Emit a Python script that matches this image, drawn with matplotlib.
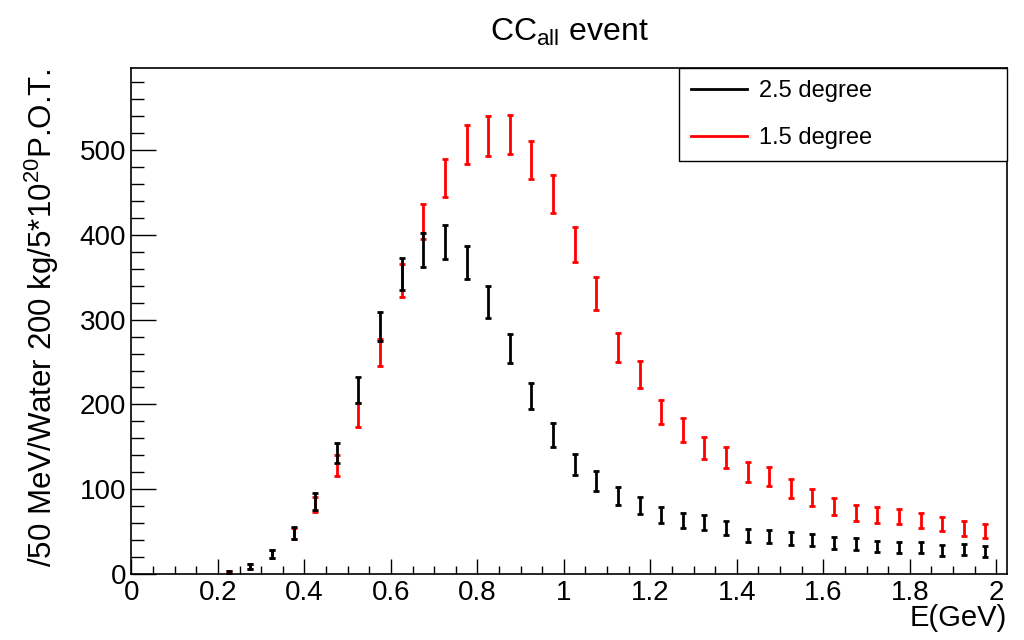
import numpy as np
import matplotlib.pyplot as plt
from matplotlib.lines import Line2D
from matplotlib.ticker import MultipleLocator, FormatStrFormatter

plt.rcParams['font.family'] = ['Liberation Sans', 'DejaVu Sans']
plt.rcParams['mathtext.fontset'] = 'custom'
plt.rcParams['mathtext.rm'] = 'Liberation Sans'
plt.rcParams['mathtext.it'] = 'Liberation Sans:italic'

# bin centres (GeV), 50 MeV bins
energy = [0.225, 0.275, 0.325, 0.375, 0.425, 0.475, 0.525, 0.575, 0.625,
          0.675, 0.725, 0.775, 0.825, 0.875, 0.925, 0.975, 1.025, 1.075,
          1.125, 1.175, 1.225, 1.275, 1.325, 1.375, 1.425, 1.475, 1.525,
          1.575, 1.625, 1.675, 1.725, 1.775, 1.825, 1.875, 1.925, 1.975]

# 2.5 degree off-axis
n_25 = [2, 9, 24, 49, 86, 143, 217, 292, 354,
        382, 391, 367, 321, 266, 210, 164, 129, 110,
        92, 81, 70, 63, 61, 54, 46, 44, 42,
        40, 37, 36, 33, 31, 32, 28, 29, 27]
err_25 = [1.5, 3, 5, 7, 10, 12, 15, 17, 19,
          20, 20, 19.6, 18.6, 17.3, 15.1, 13.7, 12.2, 11.4,
          10.4, 9.8, 9.4, 9.0, 8.4, 8.2, 7.5, 7.6, 7.5,
          7.1, 6.9, 6.9, 6.7, 6.5, 6.5, 6.1, 6.3, 6.3]

# 1.5 degree off-axis
n_15 = [2, 9, 24, 48, 82, 128, 188, 261, 346,
        415, 467, 506, 516, 518, 488, 448, 389, 331,
        267, 235, 191, 170, 149, 138, 121, 115, 101,
        90, 80, 72, 70, 68, 63, 59, 54, 51]
err_15 = [1.5, 3, 5, 7, 9, 12, 14, 16, 19,
          20.6, 22.2, 23.1, 23.5, 23.3, 22.7, 22.2, 20.6, 19.2,
          17.3, 16.1, 14.3, 13.9, 13.1, 12.4, 11.8, 11.4, 10.8,
          10, 9.6, 9.2, 9.2, 8.8, 8.6, 8.4, 8.4, 8]

fig = plt.figure(figsize=(10.24, 6.4), dpi=100)
ax = fig.add_axes([0.1284, 0.1027, 0.983 - 0.1284, 0.8933 - 0.1027])

ax.errorbar(energy, n_15, yerr=err_15, fmt='none', ecolor='red',
            elinewidth=2, capsize=2.2, capthick=2)
ax.errorbar(energy, n_25, yerr=err_25, fmt='none', ecolor='black',
            elinewidth=2, capsize=2.2, capthick=2)

ax.set_xlim(0, 2.024)
ax.set_ylim(0, 596)

ax.xaxis.set_major_locator(MultipleLocator(0.2))
ax.xaxis.set_minor_locator(MultipleLocator(0.05))
ax.xaxis.set_major_formatter(FormatStrFormatter('%g'))
ax.yaxis.set_major_locator(MultipleLocator(100))
ax.yaxis.set_minor_locator(MultipleLocator(20))

ax.tick_params(which='both', direction='in', labelsize=20, width=1,
               top=False, right=False)
ax.tick_params(axis='y', which='major', length=18, pad=4)
ax.tick_params(axis='y', which='minor', length=9)
ax.tick_params(axis='x', which='major', length=11, pad=4)
ax.tick_params(axis='x', which='minor', length=5.5)
for s in ax.spines.values():
    s.set_linewidth(1.2)

ax.set_xlabel('E(GeV)', fontsize=21, loc='right', labelpad=-1)
ax.set_ylabel(r'/50 MeV/Water 200 kg/5*10$^{20}$P.O.T.', fontsize=22.5,
              loc='top')
ax.yaxis.set_label_coords(-0.08, 1.0)
ax.set_title(r'CC$_{\mathrm{all}}$ event', fontsize=23, pad=20)

handles = [Line2D([], [], color='black', lw=2),
           Line2D([], [], color='red', lw=2)]
leg = ax.legend(handles, ['2.5 degree', '1.5 degree'],
                loc='upper left', bbox_to_anchor=(0.6256, 0.8225, 0.3744, 0.1775),
                mode='expand', borderaxespad=0, fontsize=17,
                handlelength=2.4, handletextpad=0.5, labelspacing=1.05,
                borderpad=0.5, fancybox=False, framealpha=1,
                edgecolor='black')
leg.get_frame().set_linewidth(1)

fig.savefig('out.png', dpi=100)
